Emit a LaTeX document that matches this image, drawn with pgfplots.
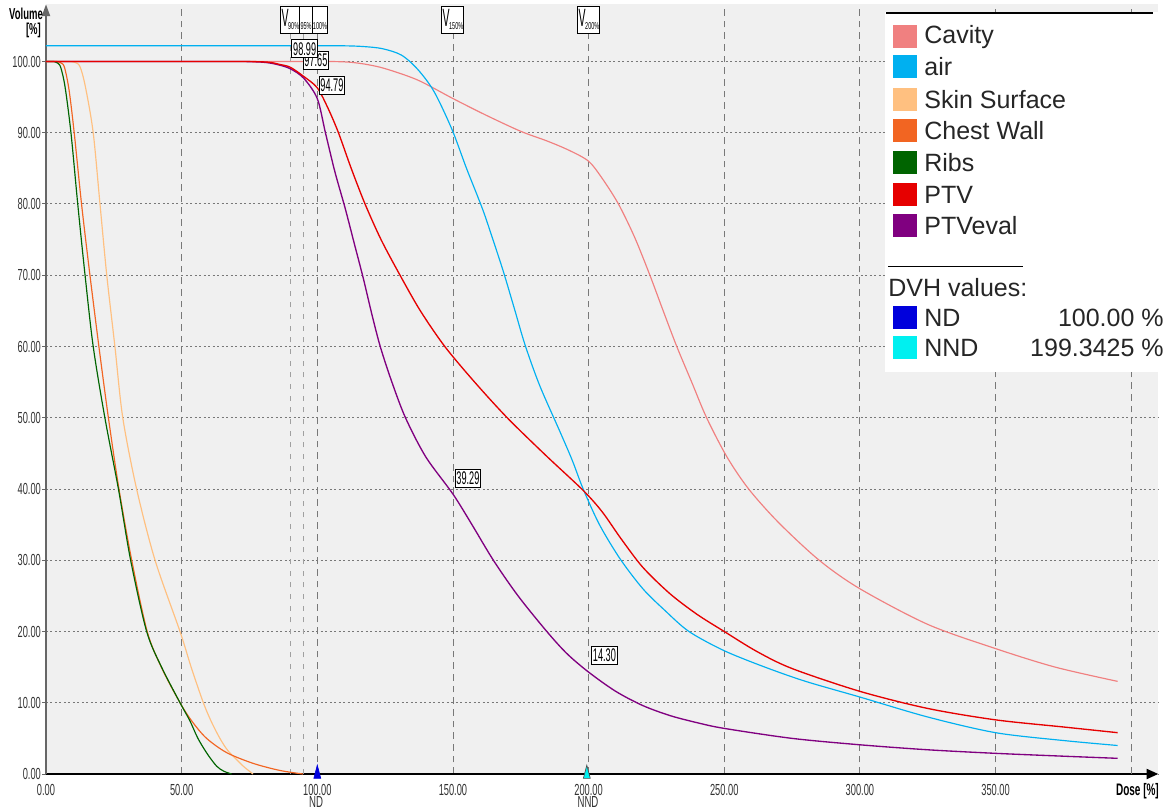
\documentclass[border=0pt]{standalone}
\usepackage{pgfplots}
\pgfplotsset{compat=1.18}
\usetikzlibrary{arrows.meta}
\usepackage{fontspec}
\setmainfont{Liberation Sans}
\definecolor{bggrey}{RGB}{240,240,240}
\definecolor{gridc}{RGB}{120,120,120}
\definecolor{cavity}{RGB}{240,128,128}
\definecolor{air}{RGB}{0,176,240}
\definecolor{skin}{RGB}{255,192,128}
\definecolor{chest}{RGB}{242,101,34}
\definecolor{ribs}{RGB}{0,100,0}
\definecolor{ptv}{RGB}{230,0,0}
\definecolor{ptveval}{RGB}{128,0,128}
\definecolor{ndblue}{RGB}{0,0,220}
\definecolor{nndcyan}{RGB}{0,240,240}
\newcommand\tickfont{\fontsize{9.6}{10}\selectfont}
\newcommand\legfont{\fontsize{15}{16}\selectfont}
\newcommand\px[2]{({(#1-46)*0.6pt},{(774-#2)*0.6pt})}
\begin{document}
\begin{tikzpicture}
\path[use as bounding box] (-27.6pt,-21pt) rectangle (671.4pt,464.4pt);
\begin{axis}[
  at={(0pt,0pt)}, anchor=south west,
  scale only axis, width=667.4pt, height=461.7pt,
  xmin=0, xmax=410, ymin=0, ymax=108,
  clip=false,
  axis lines=left,
  x axis line style={black, line width=1.1pt, -{Triangle[length=7pt,width=6pt]}},
  y axis line style={black!60, line width=0.7pt, -{Triangle[length=7pt,width=5pt]}},
  axis background/.style={fill=bggrey},
  xtick={0,50,...,350}, ytick={0,10,...,100},
  xmajorgrids, ymajorgrids,
  x grid style={gridc, line width=0.5pt, dash pattern=on 4pt off 3pt},
  y grid style={gridc, line width=0.6pt, dash pattern=on 1.2pt off 1.5pt},
  tick align=outside, major tick length=2.4pt,
  xtick style={draw=none},
  ytick style={black!60, line width=0.6pt},
  /pgf/number format/assume math mode=true,
  xticklabel style={font=\tickfont, xscale=0.58, text=black!80, /pgf/number format/fixed, /pgf/number format/fixed zerofill, /pgf/number format/precision=2},
  yticklabel style={font=\tickfont, xscale=0.58, text=black!80, inner sep=1pt, /pgf/number format/fixed, /pgf/number format/fixed zerofill, /pgf/number format/precision=2},
]
\draw[gridc, line width=0.5pt, dash pattern=on 4pt off 3pt] (axis cs:400,0) -- (axis cs:400,108);
\draw[gridc!70, line width=0.5pt, dash pattern=on 3pt off 4pt] (axis cs:90,0) -- (axis cs:90,104);
\draw[gridc!70, line width=0.5pt, dash pattern=on 3pt off 4pt] (axis cs:95,0) -- (axis cs:95,104);

\addplot[cavity, line width=0.7pt, smooth, tension=0.5] coordinates {
(0,100) (20,100) (40,100) (60,100) (80,100) (95,100) (105,100) (112,99.9) (118,99.6) (125,99) (137,97.4) (150,94.8) (162,92.5) (175,90.2) (185,88.8) (193,87.5) (200,86) (205,83.6) (211,80) (217,75.3) (222.6,70) (227.5,65) (232.5,60) (238,55) (243.5,50) (251,44.5) (259,40) (270,35.3) (285,30) (300,26) (325,21) (350,17.6) (372,15) (395,13)};
\addplot[air, line width=0.7pt, smooth, tension=0.5] coordinates {
(0,102.2) (20,102.2) (40,102.2) (60,102.2) (80,102.2) (100,102.2) (110,102.2) (117,102.1) (124,101.8) (131,100.9) (137,98.9) (143,95.8) (149.6,90.5) (155,85) (161,79.2) (165,74.7) (168.6,70.5) (172.5,65.5) (176.6,60.2) (182,54.5) (189.5,48) (194,44) (198,40) (204,35) (211.6,30.2) (220,26) (228,23) (237,20) (250,17.3) (265,15) (280,13) (300,10.8) (325,8) (350,5.8) (375,4.7) (395,4)};
\addplot[skin, line width=0.7pt, smooth, tension=0.5] coordinates {
(0,100) (4,100) (8,100) (10.5,99.9) (12.5,99.3) (14.5,96.5) (17.4,90) (19.9,80) (22.4,70) (25.4,60) (28.3,50) (33.4,40) (40.2,30) (49.4,20) (53.5,15) (58,10) (61,7.3) (64.1,5) (67,3.3) (70.3,2) (73,1) (76.3,0)};
\addplot[chest, line width=0.7pt, smooth, tension=0.5] coordinates {
(0,100) (2,100) (4,100) (5.5,99.8) (6.8,99.2) (8.5,96) (10.4,90) (13.1,80) (16.2,70) (19.5,60) (23,50) (26.9,40) (31.6,30) (37.3,20) (42.5,15) (49.4,10) (54,7.3) (59.2,5) (66.6,3) (76.3,1.5) (86.2,0.5) (94.7,0)};
\addplot[ribs, line width=0.7pt, smooth, tension=0.5] coordinates {
(0,100) (1.5,100) (3,100) (4.2,99.8) (5.4,99.2) (7,96.5) (9.2,90) (11.7,80) (14.4,70) (17.4,60) (21.7,50) (26.7,40) (31.2,30) (37.1,20) (42.6,15) (49.4,10) (53,7.5) (56,5) (59.5,2.8) (62.9,1.1) (65.5,0.4) (68.4,0)};
\addplot[ptveval, line width=0.8pt, smooth, tension=0.5] coordinates {
(0,100) (20,100) (40,100) (60,100) (72,100) (80,99.9) (85,99.6) (90,98.99) (95,97.65) (100,94.79) (103,90) (106.5,84.5) (110.2,79.5) (113.6,74.5) (117,69.5) (120,64.7) (123.2,60) (127.5,55) (132.5,50) (140,44.5) (150,39.29) (157,35) (164.9,30) (174,25) (184.6,20) (192,16.9) (200,14.3) (210,11.6) (220,9.6) (230,8.2) (240,7.2) (250,6.4) (275,5) (300,4.1) (325,3.4) (350,2.9) (375,2.5) (395,2.2)};
\addplot[ptv, line width=0.8pt, smooth, tension=0.5] coordinates {
(0,100) (20,100) (40,100) (60,100) (74,100) (82,99.9) (86,99.6) (90,99.2) (95,97.9) (100,96.3) (104,93.4) (107.8,90) (112.5,85) (117.6,80) (123.5,75) (130.5,70) (138,65) (147,60) (158,55) (170,50) (184,44.8) (198,39.8) (205,36.8) (212,33) (220,29) (230,25.3) (240,22.4) (250,20) (262,17.2) (275,14.8) (300,11.6) (325,9.2) (350,7.6) (375,6.6) (395,5.8)};

\addplot[only marks, mark=triangle*, mark size=2.4pt, mark options={fill=ndblue, draw=ndblue, yscale=2.2}] coordinates {(100,0)};
\addplot[only marks, mark=triangle*, mark size=2.4pt, mark options={fill=nndcyan, draw=black!70, yscale=2.2}] coordinates {(199.3425,0)};
\end{axis}

% axis titles
\node[anchor=east, font=\bfseries\fontsize{9.5}{10}\selectfont, xscale=0.6, inner sep=0pt] at \px{43}{14} {Volume};
\node[anchor=east, font=\bfseries\fontsize{9.5}{10}\selectfont, xscale=0.6, inner sep=0pt] at \px{41}{30} {[\%]};
\node[anchor=east, font=\bfseries\fontsize{10}{10}\selectfont, xscale=0.6, inner sep=0pt] at \px{1159}{791} {Dose [\%]};
\node[font=\tickfont, xscale=0.6, text=black!80, inner sep=0pt] at \px{316}{802} {ND};
\node[font=\tickfont, xscale=0.6, text=black!80, inner sep=0pt] at \px{588}{802} {NND};

% V boxes
\draw[black, fill=white, line width=0.5pt] \px{280}{6.7} rectangle \px{299.3}{33.3};
\draw[black, fill=white, line width=0.5pt] \px{299.3}{6.7} rectangle \px{312.7}{33.3};
\draw[black, fill=white, line width=0.5pt] \px{312.7}{6.7} rectangle \px{327.3}{33.3};
\draw[black, fill=white, line width=0.5pt] \px{441}{6.7} rectangle \px{463}{33.3};
\draw[black, fill=white, line width=0.5pt] \px{577}{6.7} rectangle \px{599}{33.3};
\foreach \xa/\lab in {281.5/90\%, 442.5/150\%, 578.5/200\%}{
  \node[anchor=north west, font=\fontsize{15}{15}\selectfont, xscale=0.42, inner sep=0pt] at \px{\xa}{9} {V};
  \node[anchor=south west, font=\fontsize{6}{6}\selectfont, xscale=0.55, inner sep=0pt] at \px{\xa+6.5}{29.5} {\lab};
}
\node[anchor=south, font=\fontsize{6}{6}\selectfont, xscale=0.55, inner sep=0pt] at \px{306}{29.5} {95\%};
\node[anchor=south, font=\fontsize{6}{6}\selectfont, xscale=0.55, inner sep=0pt] at \px{320}{29.5} {100\%};

% value boxes
\foreach \xa/\ya/\val in {303/70/97.65, 291.7/58.3/98.99, 319/95/94.79, 455/488/39.29, 591.5/665/14.30}{
  \node[anchor=south west, draw=black, fill=white, line width=0.5pt, font=\fontsize{11}{11}\selectfont, xscale=0.5, inner sep=1.5pt] at \px{\xa}{\ya} {\val};
}

% legend
\fill[white] \px{885}{12} rectangle \px{1165}{372};
\draw[black, line width=1.2pt] \px{886}{12.7} -- \px{1153}{12.7};
\foreach \c/\yy/\name in {cavity/37/Cavity, air/67/air, skin/100/Skin Surface, chest/131/Chest Wall, ribs/163/Ribs, ptv/195/PTV, ptveval/226/PTVeval, ndblue/318/ND, nndcyan/348/NND}{
  \fill[\c] \px{893}{\yy-11.5} rectangle \px{917}{\yy+11.5};
  \node[anchor=west, font=\legfont, text=black!85, inner sep=0pt] at \px{924}{\yy} {\name};
}
\draw[black, line width=0.8pt] \px{888}{266.7} -- \px{1023}{266.7};
\node[anchor=west, font=\legfont, text=black!85, inner sep=0pt] at \px{888}{288} {DVH values:};
\node[anchor=east, font=\legfont, text=black!85, inner sep=0pt] at \px{1164}{318} {100.00 \%};
\node[anchor=east, font=\legfont, text=black!85, inner sep=0pt] at \px{1164}{348} {199.3425 \%};
\end{tikzpicture}
\end{document}
